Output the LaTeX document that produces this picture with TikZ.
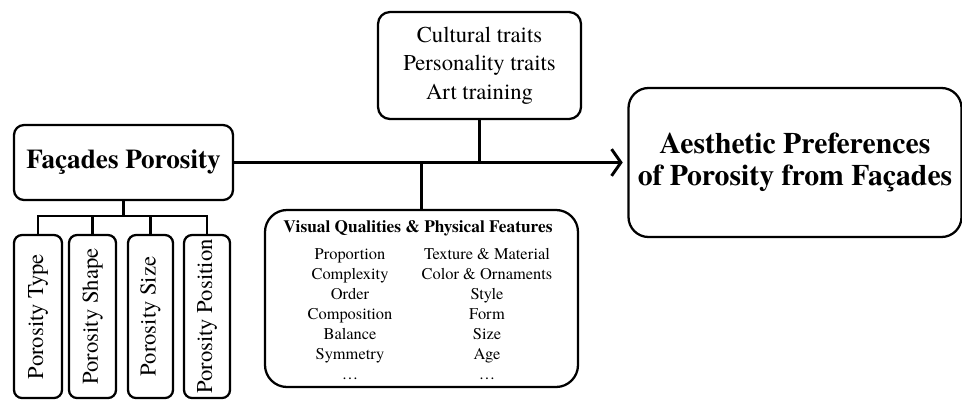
\documentclass[tikz,border=0pt]{standalone}
\usepackage{fontspec}
\setmainfont{texgyretermes}[Extension=.otf, UprightFont=*-regular, BoldFont=*-bold, ItalicFont=*-italic, BoldItalicFont=*-bolditalic]
\usepackage{graphicx}
\usetikzlibrary{arrows.meta}
\begin{document}
\begin{tikzpicture}[x=0.75pt,y=-0.75pt,
  box/.style={draw=black, line width=1.7pt, rounded corners=#1, inner sep=0pt, align=center, text=black},
  conn/.style={draw=black, line width=2.2pt},
  tiny/.style={inner sep=0pt, anchor=base, font=\fontsize{12.3}{14}\selectfont},
]
\useasboundingbox (0,0) rectangle (962,401);

% main boxes
\node[box=7.5pt, minimum width=164.25pt, minimum height=56.25pt,
      font=\fontsize{20.4}{24}\selectfont\bfseries] (fac) at (123.5,162.5) {Façades Porosity};

\node[box=9pt, minimum width=152.25pt, minimum height=80.25pt,
      font=\fontsize{17}{21.4}\selectfont] (top) at (479.5,65.5)
      {Cultural traits\\Personality traits\\Art training};

\node[box=16.5pt, minimum width=234.75pt, minimum height=132.75pt] (vis) at (421.5,298.5) {};

\node[box=15pt, minimum width=249.75pt, minimum height=111.75pt,
      font=\fontsize{22.3}{23.5}\selectfont\bfseries] (aes) at (795,162.5)
      {Aesthetic Preferences\\of Porosity from Façades};

% small porosity boxes
\node[box=6pt, minimum width=36pt,    minimum height=122.25pt, font=\fontsize{17}{20}\selectfont] (t1) at (38,316.5)    {\rotatebox{90}{Porosity Type}};
\node[box=6pt, minimum width=35.25pt, minimum height=122.25pt, font=\fontsize{17}{20}\selectfont] (t2) at (92.5,316.5)  {\rotatebox{90}{Porosity Shape}};
\node[box=6pt, minimum width=33.75pt, minimum height=122.25pt, font=\fontsize{17}{20}\selectfont] (t3) at (150.5,316.5) {\rotatebox{90}{Porosity Size}};
\node[box=6pt, minimum width=34.5pt,  minimum height=122.25pt, font=\fontsize{17}{20}\selectfont] (t4) at (207,316.5)   {\rotatebox{90}{Porosity Position}};

% visual qualities text
\node[tiny, font=\fontsize{13}{15}\selectfont\bfseries] (vh) at (418,232) {Visual Qualities \& Physical Features};
\node[tiny] (l1) at (350,259) {Proportion};
\node[tiny] (l2) at (350,279) {Complexity};
\node[tiny] (l3) at (350,299) {Order};
\node[tiny] (l4) at (350,319) {Composition};
\node[tiny] (l5) at (350,339) {Balance};
\node[tiny] (l6) at (350,359) {Symmetry};
\node[tiny] (l7) at (350,379) {\dots};
\node[tiny] (r1) at (487,259) {Texture \& Material};
\node[tiny] (r2) at (487,279) {Color \& Ornaments};
\node[tiny] (r3) at (487,299) {Style};
\node[tiny] (r4) at (487,319) {Form};
\node[tiny] (r5) at (487,339) {Size};
\node[tiny] (r6) at (487,359) {Age};
\node[tiny] (r7) at (487,379) {\dots};

% connectors
\coordinate (bar) at (123.5,216);
\draw[conn] (fac.east) -- (aes.west)
  [-{Straight Barb[length=7pt, width=20pt, line width=2.2pt]}, shorten >=3.5pt];
\draw[conn] (top.south) -- (top.south |- fac.east);
\draw[conn] (vis.north) -- (vis.north |- fac.east);
\draw[conn] (fac.south) -- (bar);
\draw[conn] (t1.north) |- (bar) -| (t4.north);
\draw[conn] (t2.north) -- (t2.north |- bar);
\draw[conn] (t3.north) -- (t3.north |- bar);
\end{tikzpicture}
\end{document}
